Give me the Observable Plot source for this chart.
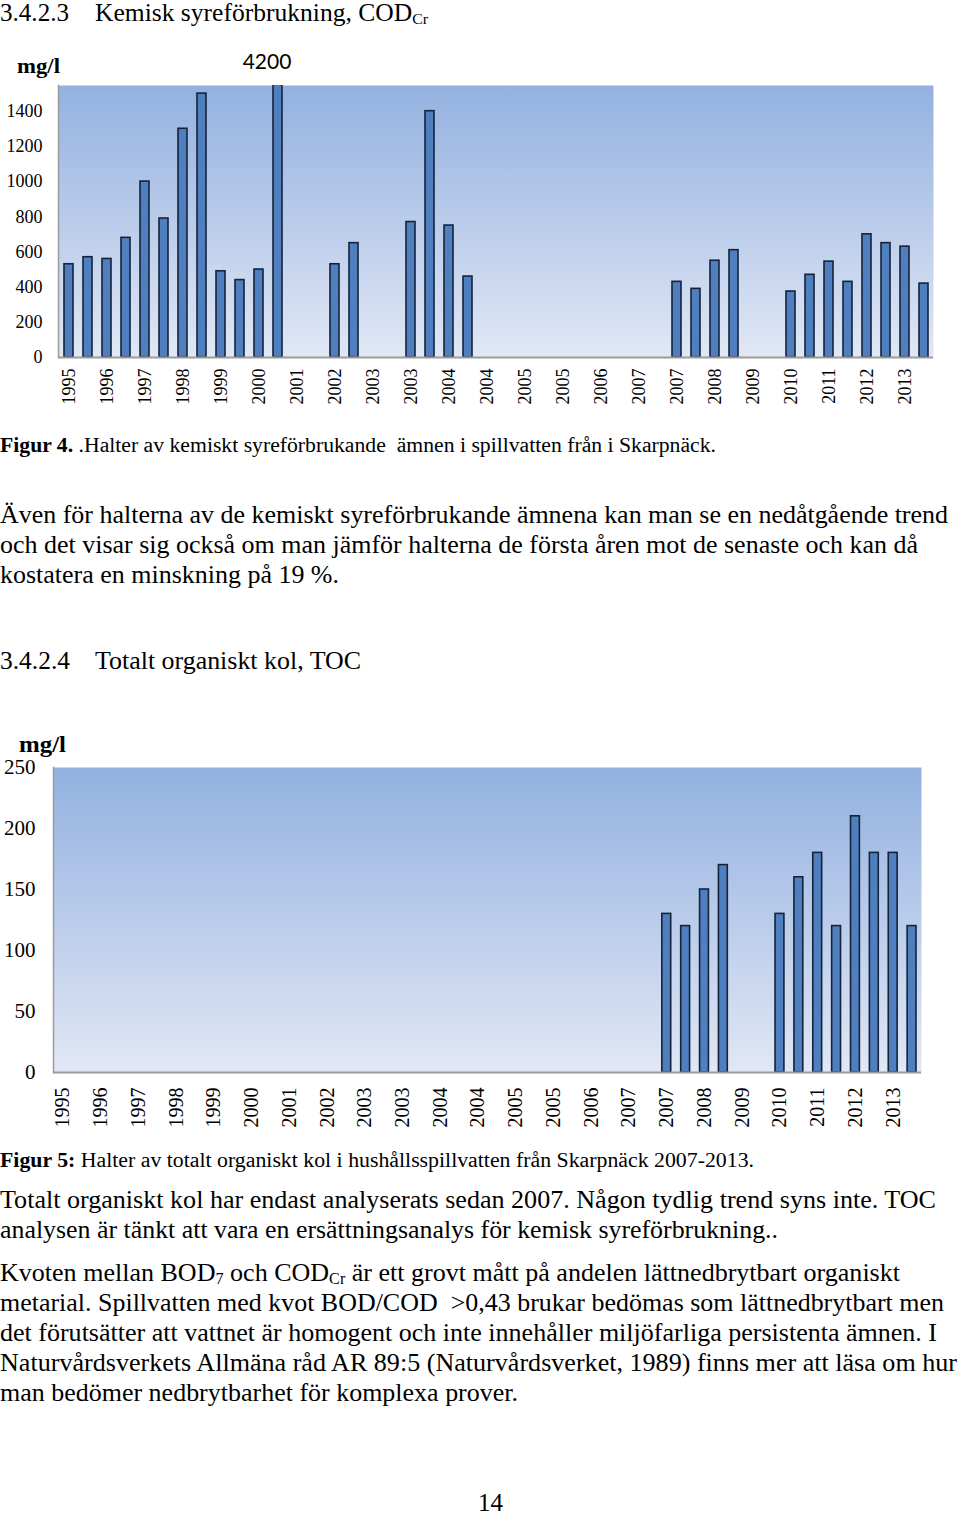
<!DOCTYPE html>
<html><head><meta charset="utf-8">
<script src="https://cdn.jsdelivr.net/npm/d3@7"></script>
<script src="https://cdn.jsdelivr.net/npm/@observablehq/plot@0.6"></script>
<style>
html,body{margin:0;padding:0;background:#fff}
body{width:960px;height:1513px;position:relative;overflow:hidden;font-family:"Liberation Serif","Times New Roman",serif;color:#000}
.t{position:absolute;white-space:pre;line-height:1;transform-origin:0 0}
.chart{position:absolute;left:0}
.chart svg{display:block}
sub.s{font-size:0.62em;vertical-align:-0.2em;line-height:0}
</style></head><body>
<div id="c1" class="chart" style="top:40px"></div>
<div id="c2" class="chart" style="top:740px"></div>
<div id="txt"></div>
<script>
// ---- data: 46 half-year sample slots, labelled every other slot ----
const slotYears = [
  "1995","1995","1996","1996","1997","1997","1998","1998","1999","1999",
  "2000","2000","2001","2001","2002","2002","2003","2003","2003","2003",
  "2004","2004","2004","2004","2005","2005","2005","2005","2006","2006",
  "2007","2007","2007","2007","2008","2008","2009","2009","2010","2010",
  "2011","2011","2012","2012","2013","2013"
];
// COD_Cr, mg/l
const codValues = [
  530, 570, 560, 680, 1000, 790, 1300, 1500, 490, 440,
  500, 4200, null, null, 530, 650, null, null, 770, 1400,
  750, 460, null, null, null, null, null, null, null, null,
  null, null, 430, 390, 550, 610, null, null, 375, 470,
  545, 430, 700, 650, 630, 420
];
// TOC, mg/l
const tocValues = [
  null, null, null, null, null, null, null, null, null, null,
  null, null, null, null, null, null, null, null, null, null,
  null, null, null, null, null, null, null, null, null, null,
  null, null, 130, 120, 150, 170, null, null, 130, 160,
  180, 120, 210, 180, 180, 120
];
const codTicks = [0, 200, 400, 600, 800, 1000, 1200, 1400];
const tocTicks = [0, 50, 100, 150, 200, 250];
const codMax = 1546;
const tocMax = 250;

const slotIdx = d3.range(slotYears.length);
const labelIdx = slotIdx.filter(i => i % 2 === 0);

function rows(values) {
  return values.map((v, i) => ({i, year: slotYears[i], v})).filter(d => d.v != null);
}

function addGradient(svg, id) {
  d3.select(svg).insert("defs", ":first-child").html(
    `<linearGradient id="${id}" x1="0" y1="0" x2="0" y2="1">
       <stop offset="0" stop-color="#93b1e0"/>
       <stop offset="1" stop-color="#e1e7f5"/>
     </linearGradient>`);
}

function makeChart(o) {
  const data = rows(o.values);
  const marks = [
    Plot.frame({fill: `url(#${o.id})`, stroke: null}),
    Plot.frame({anchor: "left", stroke: "#9c9c9c", strokeWidth: 1.5}),
    Plot.barY(data, {x: "i", y: "v", fill: "#4f7fbf", stroke: "#14233a", strokeWidth: 1.6, clip: true}),
    Plot.ruleY([0], {stroke: "#9c9c9c", strokeWidth: 2}),
    Plot.axisY({ticks: o.ticks, tickFormat: d => String(d), tickSize: 0, tickPadding: o.yPad, label: null, fontSize: o.yFont}),
    Plot.axisX({ticks: labelIdx, tickFormat: i => slotYears[i], tickRotate: -90, tickSize: 0,
                tickPadding: o.xPad, label: null, fontSize: o.xFont})
  ];
  if (o.annotate) {
    marks.push(Plot.text(data.filter(d => d.v > o.yMax), {
      x: "i", y: () => o.yMax, text: d => String(d.v), dy: -23, dx: -11,
      fontFamily: "Lato, 'Open Sans', sans-serif", fontSize: 21, fill: "#000"
    }));
  }
  const svg = Plot.plot({
    width: 960, height: o.height,
    marginLeft: o.ml, marginRight: o.mr, marginTop: o.mt, marginBottom: o.mb,
    style: {fontFamily: "'Liberation Serif','Times New Roman',serif", color: "#000", background: "transparent", overflow: "visible"},
    x: {type: "band", domain: slotIdx, paddingInner: 0.53, paddingOuter: 0.265},
    y: {domain: [0, o.yMax]},
    marks
  });
  addGradient(svg, o.id);
  return svg;
}

document.getElementById("c1").appendChild(makeChart({
  values: codValues, ticks: codTicks, yMax: codMax, id: "gcod",
  height: 380, ml: 58, mr: 27, mt: 45, mb: 63, xFont: 18, yFont: 18, xPad: 11, yPad: 16, annotate: true
}));
document.getElementById("c2").appendChild(makeChart({
  values: tocValues, ticks: tocTicks, yMax: tocMax, id: "gtoc",
  height: 400, ml: 53, mr: 39, mt: 27, mb: 68, xFont: 20, yFont: 21, xPad: 15, yPad: 18, annotate: false
}));

// ---- page text ----
const texts = [
  {h: "3.4.2.3", x: 0, y: 12, fs: 25, w: 69},
  {h: "Kemisk syreförbrukning, COD<sub class='s'>Cr</sub>", x: 95, y: 12, fs: 25, w: 333},
  {h: "<b>mg/l</b>", x: 17, y: 66, fs: 22, w: 43},
  {h: "<b>Figur 4.</b> .Halter av kemiskt syreförbrukande  ämnen i spillvatten från i Skarpnäck.", x: 0, y: 445, fs: 20, w: 716},
  {h: "Även för halterna av de kemiskt syreförbrukande ämnena kan man se en nedåtgående trend", x: 0, y: 515, fs: 26, w: 948},
  {h: "och det visar sig också om man jämför halterna de första åren mot de senaste och kan då", x: 0, y: 545, fs: 26, w: 918},
  {h: "kostatera en minskning på 19 %.", x: 0, y: 575, fs: 26, w: 339},
  {h: "3.4.2.4", x: 0, y: 660, fs: 25, w: 70},
  {h: "Totalt organiskt kol, TOC", x: 95, y: 660, fs: 25, w: 266},
  {h: "<b>mg/l</b>", x: 19, y: 744, fs: 24, w: 47},
  {h: "<b>Figur 5:</b> Halter av totalt organiskt kol i hushållsspillvatten från Skarpnäck 2007-2013.", x: 0, y: 1160, fs: 20, w: 754},
  {h: "Totalt organiskt kol har endast analyserats sedan 2007. Någon tydlig trend syns inte. TOC", x: 0, y: 1200, fs: 26, w: 936},
  {h: "analysen är tänkt att vara en ersättningsanalys för kemisk syreförbrukning..", x: 0, y: 1230, fs: 26, w: 778},
  {h: "Kvoten mellan BOD<sub class='s'>7</sub> och COD<sub class='s'>Cr</sub> är ett grovt mått på andelen lättnedbrytbart organiskt", x: 0, y: 1273, fs: 26, w: 900},
  {h: "metarial. Spillvatten med kvot BOD/COD  &gt;0,43 brukar bedömas som lättnedbrytbart men", x: 0, y: 1303, fs: 26, w: 944},
  {h: "det förutsätter att vattnet är homogent och inte innehåller miljöfarliga persistenta ämnen. I", x: 0, y: 1333, fs: 26, w: 937},
  {h: "Naturvårdsverkets Allmäna råd AR 89:5 (Naturvårdsverket, 1989) finns mer att läsa om hur", x: 0, y: 1363, fs: 26, w: 957},
  {h: "man bedömer nedbrytbarhet för komplexa prover.", x: 0, y: 1393, fs: 26, w: 518},
  {h: "14", x: 478, y: 1502, fs: 25, w: 25}
];
const host = document.getElementById("txt");
for (const t of texts) {
  const el = document.createElement("div");
  el.className = "t";
  el.innerHTML = t.h;
  el.style.left = t.x + "px";
  el.style.top = (t.y - t.fs * 0.5) + "px";
  el.style.fontSize = t.fs + "px";
  host.appendChild(el);
  const nat = el.getBoundingClientRect().width;
  if (nat > 0) el.style.transform = `scaleX(${t.w / nat})`;
}
</script>
</body></html>
